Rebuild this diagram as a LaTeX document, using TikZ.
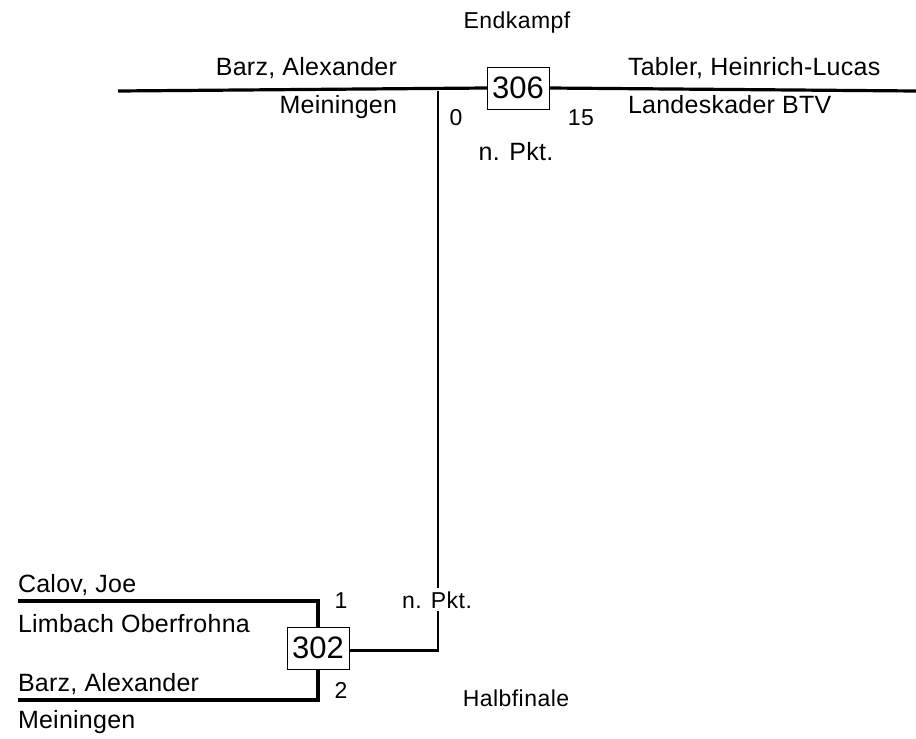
\documentclass[tikz,border=0pt]{standalone}
\usepackage{fontspec}
\setmainfont{Liberation Sans}
\newfontfamily\namefamily[LetterSpace=1]{Liberation Sans}
\newfontfamily\smallfamily[LetterSpace=2]{Liberation Sans}
\newcommand{\namefont}{\namefamily\fontsize{25}{29}\selectfont}
\newcommand{\smallfont}{\smallfamily\fontsize{23}{27}\selectfont}
\newcommand{\boxfont}{\fontsize{31}{33}\selectfont}
\begin{document}
\begin{tikzpicture}[x=1pt,y=-1pt,
  every node/.style={inner sep=0pt, outer sep=0pt},
  nametext/.style={font=\namefont},
  smalltext/.style={font=\smallfont},
  matchbox/.style={draw, line width=0.9pt, minimum width=62pt, minimum height=42pt, font=\boxfont, fill=white},
  wire/.style={line width=3.2pt, line cap=butt},
  stem/.style={line width=2.6pt}]
\useasboundingbox (0,0) rectangle (916,739);
% final
\node[matchbox] (b306) at (518,88) {306};
\coordinate (tl) at (118,91);
\coordinate (tr) at (916,91);
\coordinate (j) at (438,91);
\draw[wire] (tl) -- (b306.west);
\draw[wire] (b306.east) -- (tr);
\node[smalltext, anchor=base] (endk) at (517,28) {Endkampf};
\node[nametext, anchor=base east] (p1) at (397,75) {Barz, Alexander};
\node[nametext, anchor=base east] (c1) at (397,113) {Meiningen};
\node[nametext, anchor=base west] (p2) at (628,75) {Tabler, Heinrich-Lucas};
\node[nametext, anchor=base west] (c2) at (628,113) {Landeskader BTV};
\node[smalltext, anchor=base] (s0) at (456,125) {0};
\node[smalltext, anchor=base] (s15) at (581,125) {15};
\node[nametext, anchor=base] (np1) at (516,160) {n. Pkt.};
% semifinal
\node[matchbox] (b302) at (318,648) {302};
\coordinate (a1) at (18,601);
\coordinate (a2) at (18,700);
\draw[wire] (a1) -- (a1 -| b302.north) -- (b302.north);
\draw[wire] (a2) -- (a2 -| b302.south) -- (b302.south);
\draw[stem] ([yshift=-2.5pt]b302.east) -| (j);
\node[nametext, anchor=base west] (q1) at (18,592) {Calov, Joe};
\node[nametext, anchor=base west] (d1) at (18,632) {Limbach Oberfrohna};
\node[nametext, anchor=base west] (q2) at (18,691) {Barz, Alexander};
\node[nametext, anchor=base west] (d2) at (18,728) {Meiningen};
\node[smalltext, anchor=base] (s1) at (341,608) {1};
\node[smalltext, anchor=base] (s2) at (341,698) {2};
\node[smalltext, anchor=base, fill=white, inner ysep=3pt] (np2) at (437,608) {n. Pkt.};
\node[smalltext, anchor=base] (halb) at (516,706) {Halbfinale};
\end{tikzpicture}
\end{document}
